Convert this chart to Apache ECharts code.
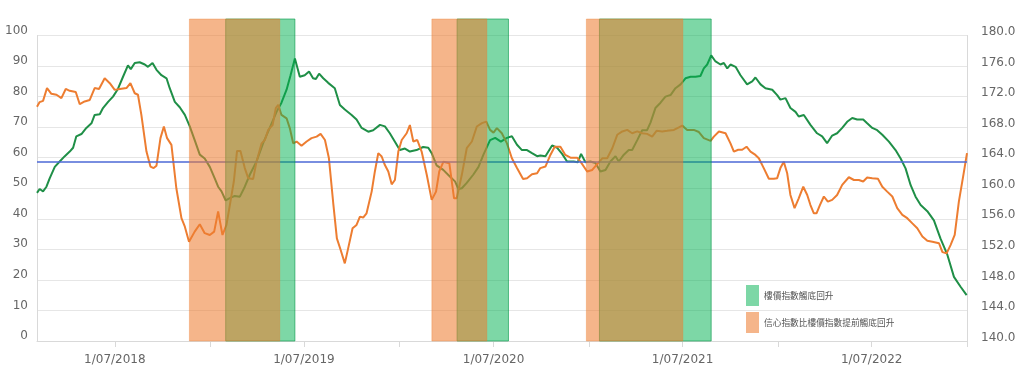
<!DOCTYPE html>
<html>
<head>
<meta charset="utf-8">
<script src="https://cdn.jsdelivr.net/npm/echarts@6/dist/echarts.min.js"></script>
<style>
html,body{margin:0;padding:0;background:#fff;}
#chart{width:1024px;height:379px;}
</style>
</head>
<body>
<div id="chart"></div>
<script>
// Time is given as decimal years
const greenName = '樓價指數觸底回升';
const orangeName = '信心指數比樓價指數提前觸底回升';

// Property price index (right axis)
const greenLine = [[2018.084,159.4],[2018.098,159.9],[2018.116,159.6],[2018.134,160.2],[2018.151,161.3],[2018.178,162.8],[2018.204,163.5],[2018.231,164.2],[2018.257,164.8],[2018.275,165.3],[2018.292,166.8],[2018.319,167.1],[2018.345,167.9],[2018.372,168.5],[2018.389,169.6],[2018.416,169.7],[2018.433,170.5],[2018.460,171.3],[2018.486,172.0],[2018.512,173.0],[2018.539,174.6],[2018.565,176.1],[2018.580,175.6],[2018.601,176.4],[2018.627,176.5],[2018.654,176.2],[2018.671,175.9],[2018.695,176.4],[2018.716,175.5],[2018.742,174.8],[2018.769,174.4],[2018.786,173.1],[2018.813,171.3],[2018.839,170.6],[2018.866,169.6],[2018.892,168.1],[2018.918,166.3],[2018.945,164.4],[2018.971,163.9],[2018.998,162.8],[2019.024,161.3],[2019.042,160.2],[2019.060,159.6],[2019.082,158.4],[2019.104,158.7],[2019.130,159.0],[2019.157,158.9],[2019.183,160.2],[2019.210,161.8],[2019.245,163.5],[2019.280,165.9],[2019.315,167.9],[2019.351,170.0],[2019.377,171.2],[2019.404,172.9],[2019.425,174.8],[2019.448,177.0],[2019.474,174.6],[2019.500,174.8],[2019.523,175.3],[2019.544,174.4],[2019.559,174.3],[2019.576,175.0],[2019.598,174.4],[2019.624,173.8],[2019.659,173.1],[2019.686,170.9],[2019.712,170.3],[2019.748,169.6],[2019.774,169.0],[2019.801,167.9],[2019.836,167.4],[2019.862,167.6],[2019.898,168.3],[2019.924,168.1],[2019.950,167.2],[2019.977,166.1],[2020.003,165.0],[2020.030,165.2],[2020.056,164.8],[2020.091,165.0],[2020.126,165.4],[2020.153,165.3],[2020.171,164.6],[2020.197,163.0],[2020.232,162.4],[2020.268,161.5],[2020.294,160.9],[2020.312,159.9],[2020.330,160.0],[2020.356,160.7],[2020.391,161.8],[2020.418,162.8],[2020.444,164.4],[2020.479,166.3],[2020.506,166.6],[2020.536,166.1],[2020.568,166.6],[2020.594,166.8],[2020.621,165.7],[2020.647,165.0],[2020.674,165.0],[2020.700,164.6],[2020.727,164.2],[2020.744,164.3],[2020.771,164.2],[2020.806,165.6],[2020.833,165.3],[2020.859,164.5],[2020.885,163.5],[2020.920,163.5],[2020.941,163.4],[2020.959,164.5],[2020.982,163.4],[2021.008,163.5],[2021.035,163.3],[2021.061,162.2],[2021.088,162.4],[2021.114,163.5],[2021.141,164.2],[2021.158,163.5],[2021.185,164.4],[2021.211,165.0],[2021.229,165.0],[2021.256,166.3],[2021.282,167.6],[2021.308,167.6],[2021.326,168.6],[2021.352,170.5],[2021.379,171.2],[2021.405,172.0],[2021.432,172.2],[2021.458,173.1],[2021.485,173.6],[2021.511,174.4],[2021.538,174.6],[2021.564,174.6],[2021.590,174.7],[2021.608,175.7],[2021.626,176.2],[2021.647,177.4],[2021.670,176.6],[2021.696,176.2],[2021.714,176.4],[2021.732,175.7],[2021.749,176.2],[2021.776,175.9],[2021.802,174.8],[2021.837,173.6],[2021.864,174.0],[2021.881,174.5],[2021.908,173.6],[2021.934,173.1],[2021.970,172.9],[2021.996,172.2],[2022.013,171.6],[2022.040,171.8],[2022.066,170.5],[2022.093,170.0],[2022.110,169.4],[2022.137,169.6],[2022.172,168.3],[2022.207,167.2],[2022.234,166.8],[2022.260,165.9],[2022.287,166.9],[2022.313,167.2],[2022.340,167.9],[2022.366,168.7],[2022.393,169.2],[2022.419,169.0],[2022.451,169.0],[2022.472,168.5],[2022.499,167.9],[2022.525,167.6],[2022.552,167.0],[2022.587,166.1],[2022.622,165.0],[2022.649,163.9],[2022.675,162.6],[2022.702,160.4],[2022.728,158.9],[2022.755,157.8],[2022.790,157.0],[2022.825,155.8],[2022.860,153.4],[2022.896,151.3],[2022.931,148.4],[2022.966,147.1],[2022.998,146.0]];

// Confidence index (left axis)
const orangeLine = [[2018.084,76.7],[2018.098,78.2],[2018.116,78.6],[2018.137,82.8],[2018.160,80.9],[2018.187,80.6],[2018.213,79.5],[2018.236,82.5],[2018.257,81.9],[2018.289,81.5],[2018.310,77.5],[2018.336,78.4],[2018.363,78.9],[2018.389,82.8],[2018.412,82.5],[2018.442,86.0],[2018.469,84.4],[2018.495,82.2],[2018.522,82.5],[2018.557,82.8],[2018.578,84.4],[2018.601,81.1],[2018.618,80.6],[2018.636,74.0],[2018.663,62.0],[2018.684,57.1],[2018.701,56.6],[2018.716,57.4],[2018.737,66.4],[2018.755,70.2],[2018.772,66.4],[2018.795,64.2],[2018.821,50.0],[2018.848,40.2],[2018.866,37.4],[2018.888,32.5],[2018.918,35.8],[2018.945,38.2],[2018.971,35.3],[2018.998,34.7],[2019.021,35.8],[2019.042,42.4],[2019.065,34.7],[2019.086,38.0],[2019.104,44.5],[2019.125,52.2],[2019.142,62.2],[2019.160,62.2],[2019.183,56.6],[2019.201,53.3],[2019.227,53.0],[2019.245,58.7],[2019.272,64.7],[2019.289,65.8],[2019.307,69.1],[2019.330,70.7],[2019.347,76.2],[2019.360,77.3],[2019.377,74.0],[2019.404,72.9],[2019.421,69.7],[2019.439,64.7],[2019.457,65.3],[2019.483,63.9],[2019.510,65.3],[2019.536,66.4],[2019.563,66.9],[2019.584,67.8],[2019.607,65.8],[2019.628,59.8],[2019.651,45.0],[2019.670,33.6],[2019.688,30.2],[2019.712,25.4],[2019.730,30.4],[2019.753,36.9],[2019.774,38.0],[2019.792,40.7],[2019.809,40.4],[2019.827,41.8],[2019.854,48.9],[2019.871,55.5],[2019.889,61.5],[2019.907,60.4],[2019.924,57.6],[2019.942,55.5],[2019.960,51.3],[2019.977,52.7],[2019.995,62.0],[2020.013,65.8],[2020.039,68.0],[2020.056,70.7],[2020.074,65.3],[2020.095,65.8],[2020.118,62.0],[2020.145,54.4],[2020.171,46.2],[2020.194,48.9],[2020.211,55.5],[2020.233,58.7],[2020.264,58.2],[2020.289,46.7],[2020.303,46.7],[2020.330,54.4],[2020.356,63.1],[2020.383,65.3],[2020.409,70.2],[2020.436,71.3],[2020.459,71.8],[2020.479,69.1],[2020.497,68.2],[2020.515,69.7],[2020.541,68.0],[2020.568,64.7],[2020.594,59.8],[2020.621,56.6],[2020.653,53.0],[2020.674,53.3],[2020.700,54.6],[2020.727,54.9],[2020.744,56.6],[2020.771,57.1],[2020.797,60.9],[2020.820,63.6],[2020.850,63.6],[2020.876,60.9],[2020.903,60.0],[2020.938,60.0],[2020.956,58.7],[2020.991,55.5],[2021.018,56.0],[2021.044,57.9],[2021.071,59.8],[2021.097,59.8],[2021.124,63.1],[2021.150,67.5],[2021.177,68.6],[2021.203,69.1],[2021.229,68.0],[2021.256,68.6],[2021.282,68.0],[2021.308,67.8],[2021.335,66.9],[2021.358,68.8],[2021.388,68.6],[2021.414,68.8],[2021.450,69.1],[2021.476,69.9],[2021.494,70.5],[2021.520,69.1],[2021.555,69.1],[2021.582,68.4],[2021.608,66.4],[2021.644,65.5],[2021.661,66.9],[2021.688,68.6],[2021.723,68.0],[2021.749,64.7],[2021.767,62.0],[2021.790,62.6],[2021.811,62.6],[2021.834,63.6],[2021.855,62.0],[2021.881,60.9],[2021.899,59.8],[2021.925,56.6],[2021.952,53.1],[2021.978,53.1],[2021.996,53.3],[2022.013,56.6],[2022.031,58.7],[2022.049,54.9],[2022.066,47.8],[2022.088,43.5],[2022.110,46.7],[2022.134,50.5],[2022.155,47.8],[2022.172,44.5],[2022.190,41.8],[2022.204,41.8],[2022.222,44.5],[2022.243,47.3],[2022.264,45.6],[2022.287,46.2],[2022.313,47.8],[2022.340,51.1],[2022.375,53.6],[2022.402,52.7],[2022.428,52.7],[2022.451,52.2],[2022.472,53.5],[2022.499,53.3],[2022.529,53.1],[2022.552,50.5],[2022.578,48.9],[2022.605,47.3],[2022.631,43.5],[2022.658,41.3],[2022.684,40.2],[2022.711,38.5],[2022.737,36.9],[2022.764,34.2],[2022.790,32.8],[2022.817,32.5],[2022.852,32.0],[2022.870,29.1],[2022.892,28.7],[2022.913,31.4],[2022.935,34.7],[2022.957,45.6],[2022.981,54.4],[2023.000,61.5]];

// Threshold level (left axis)
const blueLevel = 58.6;

// Shaded periods [start, end] in decimal years
const greenBands = [[2019.082, 2019.448], [2020.305, 2020.576], [2021.056, 2021.647]];
const orangeBands = [[2018.890, 2019.368], [2020.172, 2020.462], [2020.987, 2021.497]];

// Axis settings
const xStart = 2018.084;
const xEnd = 2023.0;
const tickYears = [2018.5, 2019, 2019.5, 2020, 2020.5, 2021, 2021.5, 2022, 2022.5, 2023];
const labelYears = [2018.5, 2019.5, 2020.5, 2021.5, 2022.5];
const leftAxis = {min: 0, max: 100, interval: 10};
const rightAxis = {min: 140, max: 180, interval: 4};

function yearToMs(t) {
  const y = Math.floor(t + 1e-9);
  const a = Date.UTC(y, 0, 1), b = Date.UTC(y + 1, 0, 1);
  return a + (t - y) * (b - a);
}
function halfYearMs(t) {
  const y = Math.floor(t + 1e-9);
  return (t - y) > 0.25 ? Date.UTC(y, 6, 1) : Date.UTC(y, 0, 1);
}
function pad(n) { return (n < 10 ? '0' : '') + n; }

const xMin = yearToMs(xStart);
const xMax = yearToMs(xEnd);
const tickMs = tickYears.map(halfYearMs);
const labelMs = labelYears.map(halfYearMs);

const chart = echarts.init(document.getElementById('chart'), null, {renderer: 'canvas'});

function bandRender(params, api) {
  const s = api.coord([api.value(0), 1]);
  const e = api.coord([api.value(1), 0]);
  return {
    type: 'rect',
    shape: {x: s[0], y: s[1], width: e[0] - s[0], height: e[1] - s[1]},
    style: api.style()
  };
}

const axisFont = {color: '#666', fontSize: 12, fontFamily: 'DejaVu Sans'};

chart.setOption({
  animation: false,
  backgroundColor: '#fff',
  grid: [
    {left: 37, right: 57, top: 35.5, bottom: 38},
    {left: 37, right: 57, top: 19, bottom: 38}
  ],
  xAxis: [
    {
      type: 'value', gridIndex: 0, min: xMin, max: xMax,
      axisLine: {show: true, lineStyle: {color: '#d9d9d9', width: 1}},
      axisTick: {show: true, length: 6, lineStyle: {color: '#d9d9d9'}, customValues: tickMs},
      axisLabel: Object.assign({}, axisFont, {
        margin: 13,
        customValues: labelMs,
        formatter: function (v) {
          const d = new Date(v);
          return d.getUTCDate() + '/' + pad(d.getUTCMonth() + 1) + '/' + d.getUTCFullYear();
        }
      }),
      splitLine: {show: false}
    },
    {
      type: 'value', gridIndex: 1, min: xMin, max: xMax, show: false
    }
  ],
  yAxis: [
    {
      type: 'value', gridIndex: 0, min: leftAxis.min, max: leftAxis.max, interval: leftAxis.interval,
      axisLine: {show: true, lineStyle: {color: '#d9d9d9'}},
      axisTick: {show: false},
      axisLabel: Object.assign({}, axisFont, {margin: 9, verticalAlign: 'bottom', lineHeight: 10}),
      splitLine: {show: true, lineStyle: {color: '#e6e6e6', width: 1}}
    },
    {
      type: 'value', gridIndex: 0, position: 'right', min: rightAxis.min, max: rightAxis.max, interval: rightAxis.interval,
      axisLine: {show: true, lineStyle: {color: '#d9d9d9'}},
      axisTick: {show: false},
      axisLabel: Object.assign({}, axisFont, {margin: 14, verticalAlign: 'bottom', lineHeight: 7, formatter: function (v) { return v.toFixed(1); }}),
      splitLine: {show: false}
    },
    {
      type: 'value', gridIndex: 1, min: 0, max: 1, show: false
    }
  ],
  legend: {
    orient: 'vertical',
    left: 746, top: 285,
    padding: 0,
    icon: 'rect',
    itemWidth: 13, itemHeight: 21, itemGap: 6,
    itemStyle: {borderWidth: 0},
    data: [greenName, orangeName],
    textStyle: {color: '#555', fontSize: 8.7, fontFamily: 'Noto Sans CJK TC'}
  },
  series: [
    {
      name: 'price', type: 'line', xAxisIndex: 0, yAxisIndex: 1,
      data: greenLine.map(p => [yearToMs(p[0]), p[1]]),
      showSymbol: false, symbol: 'none',
      lineStyle: {color: '#1f8f47', width: 2},
      itemStyle: {color: '#1f8f47'},
      z: 2
    },
    {
      name: 'confidence', type: 'line', xAxisIndex: 0, yAxisIndex: 0,
      data: orangeLine.map(p => [yearToMs(p[0]), p[1]]),
      showSymbol: false, symbol: 'none',
      lineStyle: {color: '#ed7d31', width: 2},
      itemStyle: {color: '#ed7d31'},
      markLine: {
        silent: true, symbol: 'none', label: {show: false},
        lineStyle: {color: '#4d69d6', width: 1.5, type: 'solid'},
        data: [{yAxis: blueLevel}]
      },
      z: 2
    },
    {
      name: greenName, type: 'custom', xAxisIndex: 1, yAxisIndex: 2,
      renderItem: bandRender,
      encode: {x: [0, 1]},
      data: greenBands.map(b => [yearToMs(b[0]), yearToMs(b[1])]),
      itemStyle: {color: 'rgba(0,176,80,0.51)', borderColor: 'rgba(0,150,70,0.6)', borderWidth: 1},
      z: 5
    },
    {
      name: orangeName, type: 'custom', xAxisIndex: 1, yAxisIndex: 2,
      renderItem: bandRender,
      encode: {x: [0, 1]},
      data: orangeBands.map(b => [yearToMs(b[0]), yearToMs(b[1])]),
      itemStyle: {color: 'rgba(237,125,49,0.57)', borderColor: 'rgba(237,125,49,0.35)', borderWidth: 1},
      z: 6
    }
  ]
});
</script>
</body>
</html>
